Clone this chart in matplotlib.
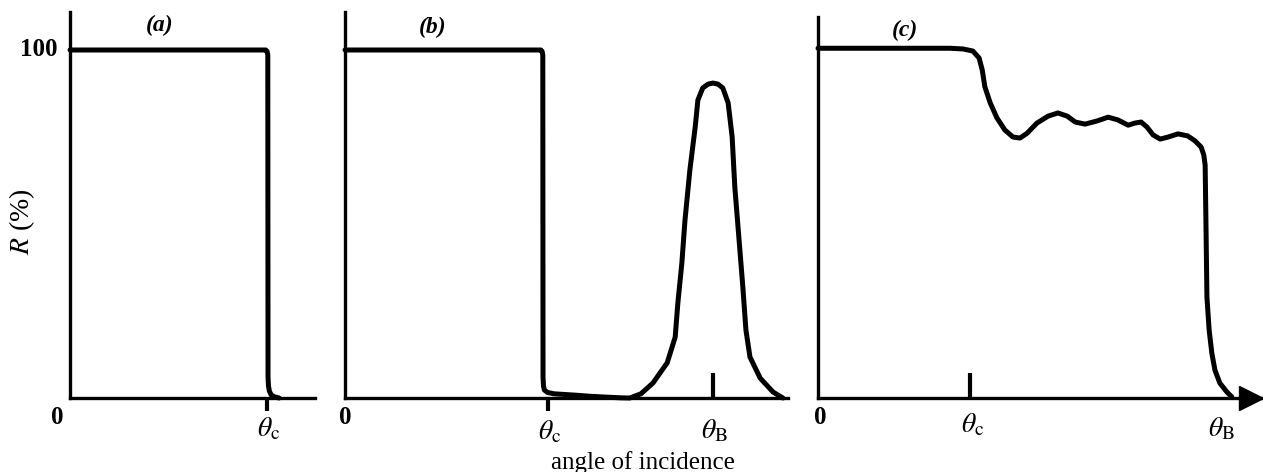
import numpy as np
import matplotlib.pyplot as plt

plt.rcParams['font.family'] = ['Liberation Serif', 'DejaVu Serif']
plt.rcParams['mathtext.fontset'] = 'stix'

# (a) total reflection below the critical angle
xa = [0, 44.0, 44.3, 44.45, 44.5, 44.6, 44.8, 45.2, 46.0, 47.0]
ya = [100, 100, 99.6, 98.5, 6, 3.5, 2.0, 0.9, 0.3, 0]

# (b) critical-angle drop plus Bragg peak
xb = [0, 44.0, 44.3, 44.45, 44.5, 44.6, 44.8, 45.5, 47, 52, 55, 58, 62, 64.0, 66.5, 69.2, 72.4,
      74.2, 74.8, 75.7, 76.4, 77.5, 78.7, 79.3, 80.4, 81.6, 82.7, 83.8, 84.9, 86.1, 87.0,
      87.6, 88.5, 89.4, 90.1, 91.0, 93.3, 96.2, 98.4]
yb = [100, 100, 99.6, 98.5, 6, 3.5, 2.3, 1.6, 1.2, 0.8, 0.5, 0.3, 0.05, 0, 1.2, 4.3, 10.1,
      17.5, 27.3, 38.8, 51.1, 65.5, 77.9, 85.6, 89.1, 90.2, 90.5, 90.2, 89.1, 84.8, 75,
      60.6, 46.3, 31.9, 19.5, 11.8, 5.7, 1.7, 0]

# (c) critical-angle shoulder, ripples, and cut-off near theta_B
xc = [0, 29.7, 32.6, 34.8, 36.2, 36.9, 37.5, 38.7, 40.2, 42.0, 43.8, 45.4, 47.0, 49.2, 51.7,
      53.9, 56.0, 57.8, 60.0, 62.7, 65.2, 67.4, 69.7, 71.2, 72.6, 73.9, 75.3, 76.9, 78.7,
      80.9, 83.1, 84.7, 86.1, 86.7, 87.0, 87.2, 87.4, 87.9, 88.5, 89.2, 90.3, 91.9, 93.0]
yc = [100.5, 100.5, 100.3, 99.7, 97.7, 94.3, 89.4, 84.8, 80.5, 77.0, 75.0, 74.7, 76.1, 79.0,
      81.0, 81.9, 81.0, 79.3, 78.7, 79.6, 80.7, 79.9, 78.4, 79.0, 79.3, 77.9, 75.6, 74.4,
      75.0, 75.9, 75.3, 73.9, 72.1, 69.8, 66.9, 48.3, 29.0, 19.5, 12.9, 8.0, 4.3, 1.7, 0.3]

theta_c = [44.3, 45.6, 34.2]
theta_b = [82.7, 90.3]
panel_tags = ['(a)', '(b)', '(c)']

fig = plt.figure(figsize=(12.63, 4.72), dpi=100)
H = 472.0
W = 1263.0
px = 3.48  # pixels per percent
ax_a = fig.add_axes([70 / W, 74 / H, 245 / W, 386 / H])
ax_b = fig.add_axes([345 / W, 74 / H, 443 / W, 386 / H])
ax_c = fig.add_axes([818 / W, 74 / H, 445 / W, 381 / H])
ax_a.set_xlim(0, 245 / 4.45)
ax_b.set_xlim(0, 443 / 4.45)
ax_c.set_xlim(0, 100)
ax_a.set_ylim(0, 386 / px)
ax_b.set_ylim(0, 386 / px)
ax_c.set_ylim(0, 381 / px)

lw = 3.6
for ax, x, y in [(ax_a, xa, ya), (ax_b, xb, yb), (ax_c, xc, yc)]:
    ax.plot(x, y, color='black', lw=lw, solid_joinstyle='round', solid_capstyle='round',
            zorder=5, clip_on=False)
    for s in ['top', 'right']:
        ax.spines[s].set_visible(False)
    for s in ['left', 'bottom']:
        ax.spines[s].set_linewidth(2.4)
    ax.set_xticks([])
    ax.set_yticks([])
    ax.patch.set_alpha(0)

tick_kw = dict(color='black', lw=3.0, solid_capstyle='butt', clip_on=False, zorder=4)
# outward ticks at theta_c in (a) and (b)
ax_a.plot([theta_c[0], theta_c[0]], [0, -3.6], **tick_kw)
ax_b.plot([theta_c[1], theta_c[1]], [0, -3.6], **tick_kw)
# inward ticks
ax_b.plot([theta_b[0], theta_b[0]], [0, 7.2], **tick_kw)
ax_c.plot([theta_c[2], theta_c[2]], [0, 7.2], **tick_kw)

# arrow head on (c)
ax_c.plot([97.4], [0], marker='>', markersize=17, color='black', clip_on=False, zorder=6)


def lab(ax, x, s, dy, **kw):
    ax.annotate(s, xy=(x, 0), xycoords=ax.get_xaxis_transform(), xytext=(0, dy),
                textcoords='offset points', ha='center', va='top', **kw)


zero_kw = dict(fontsize=18, fontweight='bold')
lab(ax_a, -2.9, '0', -6, **zero_kw)
lab(ax_b, 0, '0', -6, **zero_kw)
lab(ax_c, 0.5, '0', -6, **zero_kw)

th_kw = dict(fontsize=20)
lab(ax_a, 44.7, r'$\theta_{\rm c}$', -13, **th_kw)
lab(ax_b, 46.1, r'$\theta_{\rm c}$', -15, **th_kw)
lab(ax_b, 83.1, r'$\theta_{\rm B}$', -14, **th_kw)
lab(ax_c, 34.8, r'$\theta_{\rm c}$', -10, **th_kw)
lab(ax_c, 90.6, r'$\theta_{\rm B}$', -13, **th_kw)

ax_a.text(-0.05, 100, '100', transform=ax_a.get_yaxis_transform(), ha='right', va='center',
          fontsize=18, fontweight='bold')

tag_x = [160, 433, 905]
tag_y = [25, 27, 30]
for t, tx, ty in zip(panel_tags, tag_x, tag_y):
    fig.text(tx / W, 1 - ty / H, t, ha='center', va='center', fontsize=17,
             fontweight='bold', fontstyle='italic')

fig.text(22 / W, 1 - 222 / H, r'$R$ (%)', rotation=90, ha='center', va='center', fontsize=20)
fig.text(643 / W, 1 - 463 / H, 'angle of incidence', ha='center', va='center', fontsize=18)

fig.savefig('out.png', dpi=100)
